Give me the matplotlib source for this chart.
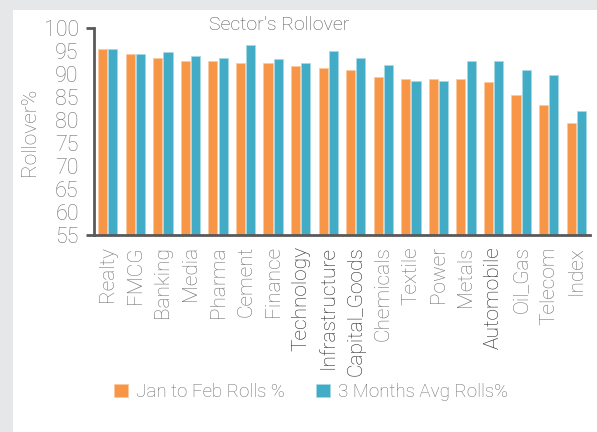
import matplotlib
matplotlib.use("Agg")
import matplotlib.pyplot as plt
import numpy as np
from matplotlib.patches import Rectangle

categories = ["Realty", "FMCG", "Banking", "Media", "Pharma", "Cement", "Finance",
              "Technology", "Infrastructure", "Capital_Goods", "Chemicals", "Textile",
              "Power", "Metals", "Automobile", "Oil_Gas", "Telecom", "Index"]
jan_feb = [95.4, 94.35, 93.5, 92.75, 92.75, 92.4, 92.4, 91.7, 91.2, 90.9, 89.35,
           88.9, 88.9, 88.9, 88.2, 85.5, 83.2, 79.35]
avg3m = [95.4, 94.35, 94.7, 93.9, 93.5, 96.2, 93.2, 92.4, 95.1, 93.5, 92.0,
         88.55, 88.55, 92.75, 92.75, 90.9, 89.7, 82.0]
dark_labels = ["Technology", "Infrastructure", "Capital_Goods", "Automobile"]
series_names = ["Jan to Feb Rolls %", "3 Months Avg Rolls%"]
yticks = [55, 60, 65, 70, 75, 80, 85, 90, 95, 100]

plt.rcParams['font.family'] = ['Roboto', 'DejaVu Sans']
FW = "light"
GRAY = "#6f6f6f"

fig = plt.figure(figsize=(5.97, 4.32), dpi=100)
fig.patch.set_facecolor("#e6e7e9")
fig.patches.append(Rectangle((13/597, 0), 1, (432-10)/432, transform=fig.transFigure,
                             facecolor="white", edgecolor="none", zorder=-10))

ax = fig.add_axes([94/597, (432-235)/432, (590-94)/597, (235-28)/432])
ax.set_facecolor("none")

orange = "#F79646"
blue = "#42ACC6"
x = np.arange(len(categories))
w = 0.33
ax.bar(x - w/2 - 0.02, jan_feb, width=w, color=orange, edgecolor="#fbc9a0", linewidth=0.6, label=series_names[0])
ax.bar(x + w/2 + 0.02, avg3m, width=w, color=blue, edgecolor="#a6d9e6", linewidth=0.6, label=series_names[1])

ax.set_xlim(-0.5, len(categories) - 0.5)
ax.set_ylim(55, 100)
ax.set_yticks(yticks)
ax.set_xticks(x)
ax.set_xticklabels(categories, rotation=90, fontsize=15, color=GRAY, fontweight=FW)
for lbl in ax.get_xticklabels():
    if lbl.get_text() in dark_labels:
        lbl.set_color("#222222")
ax.tick_params(axis="x", length=0, pad=8)
ax.tick_params(axis="y", length=6, width=2, color="#595959", labelsize=15.5, labelcolor=GRAY, pad=5)
for lbl in ax.get_yticklabels():
    lbl.set_fontweight(FW)
ticks = ax.yaxis.get_major_ticks()
for t in ticks[1:-1]:
    t.tick1line.set_visible(False)

for s in ["top", "right"]:
    ax.spines[s].set_visible(False)
for s in ["left", "bottom"]:
    ax.spines[s].set_color("#595959")
    ax.spines[s].set_linewidth(2)

ax.set_ylabel("Rollover%", fontsize=15, color=GRAY, fontweight=FW, labelpad=3)
fig.text(279/597, 1 - 25/432, "Sector's Rollover", ha="center", va="center",
         fontsize=14, color="#555555", fontweight=FW)

h, l = ax.get_legend_handles_labels()
leg = fig.legend(h, l, loc="center", bbox_to_anchor=(311/597, 1 - 392/432), ncol=2,
                 frameon=False, fontsize=13.5, handlelength=0.75, handleheight=0.75,
                 handletextpad=0.4, columnspacing=1.7, labelcolor=GRAY)
for t in leg.get_texts():
    t.set_fontweight(FW)

fig.savefig("out.png", dpi=100)
